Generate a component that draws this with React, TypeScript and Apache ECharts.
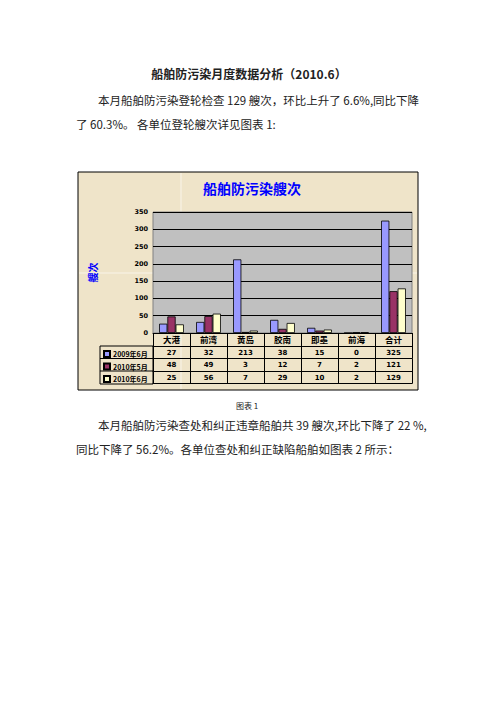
import React, { useEffect, useRef } from "react";
import * as echarts from "echarts";

const categories = ["大港", "前湾", "黄岛", "胶南", "即墨", "前海", "合计"];
const seriesNames = ["2009年6月", "2010年5月", "2010年6月"];
const jun2009 = [27, 32, 213, 38, 15, 0, 325];
const may2010 = [48, 49, 3, 12, 7, 2, 121];
const jun2010 = [25, 56, 7, 29, 10, 2, 129];
const seriesColors = ["#9999ff", "#993366", "#ffffcc"];
const yMax = 350;
const yStep = 50;

const docTitle = "船舶防污染月度数据分析（2010.6）";
const para1 = ["本月船舶防污染登轮检查 129 艘次，环比上升了 6.6%,同比下降", "了 60.3%。 各单位登轮艘次详见图表 1:"];
const caption = "图表 1";
const para2 = ["本月船舶防污染查处和纠正违章船舶共 39 艘次,环比下降了 22 %,", "同比下降了 56.2%。各单位查处和纠正缺陷船舶如图表 2 所示："];

const CJK = "'Noto Sans CJK SC', sans-serif";

export default function App() {
  const chartRef = useRef<HTMLDivElement>(null);

  useEffect(() => {
    const chart = echarts.init(chartRef.current!, null, { renderer: "svg" });
    const rows = [jun2009, may2010, jun2010];

    // data table rows under the plot, one category axis per row
    const rowAxes = rows.map((row, i) => ({
      type: "category",
      data: categories,
      position: "bottom",
      offset: 13 + i * 12.5,
      axisLine: { lineStyle: { color: "#000", width: 1 } },
      axisTick: { show: true, interval: 0, length: 12.5, lineStyle: { color: "#000" } },
      axisLabel: {
        interval: 0,
        margin: 3,
        fontSize: 7,
        fontWeight: "bold",
        fontFamily: "DejaVu Sans",
        color: "#000",
        formatter: (_v: string, idx: number) => String(row[idx]),
      },
    }));

    const docText = (text: string, x: number, y: number, size: number, bold = false, align = "left") => ({
      type: "text",
      x,
      y,
      style: {
        text,
        fontSize: size,
        fontWeight: bold ? "bold" : "normal",
        fontFamily: CJK,
        fill: "#222",
        textAlign: align,
        textVerticalAlign: "middle",
      },
    });

    chart.setOption({
      animation: false,
      backgroundColor: "#ffffff",
      title: {
        text: "船舶防污染艘次",
        left: 247,
        textAlign: "center",
        top: 176,
        textStyle: { color: "#0000ff", fontSize: 14, fontWeight: "bold", fontFamily: CJK },
      },
      legend: seriesNames.map((name, i) => ({
        data: [name],
        left: 103,
        top: 350 + i * 12.5,
        padding: 0,
        icon: "rect",
        itemWidth: 6,
        itemHeight: 6,
        textStyle: { fontSize: 7, fontWeight: "bold", fontFamily: CJK, color: "#000", padding: [0, 0, 0, -2] },
      })),
      grid: {
        left: 153,
        top: 212,
        width: 259,
        height: 121,
        show: true,
        backgroundColor: "#c0c0c0",
        borderColor: "#808080",
        borderWidth: 1,
      },
      xAxis: [
        {
          type: "category",
          data: categories,
          position: "bottom",
          axisLine: { lineStyle: { color: "#000", width: 1 } },
          axisTick: { show: true, interval: 0, length: 13, lineStyle: { color: "#000" } },
          axisLabel: {
            interval: 0,
            margin: 2,
            fontSize: 8.5,
            fontWeight: "bold",
            fontFamily: CJK,
            color: "#000",
          },
        },
        ...rowAxes,
        {
          type: "category",
          data: categories,
          position: "bottom",
          offset: 50.5,
          axisLine: { lineStyle: { color: "#000", width: 1 } },
          axisTick: { show: false },
          axisLabel: { show: false },
        },
      ],
      yAxis: {
        type: "value",
        min: 0,
        max: yMax,
        interval: yStep,
        name: "艘次",
        nameLocation: "middle",
        nameRotate: 90,
        nameGap: 56,
        nameTextStyle: { color: "#0000ff", fontSize: 10, fontWeight: "bold", fontFamily: CJK },
        axisLine: { show: false },
        axisTick: { show: false },
        axisLabel: { fontSize: 6.5, fontWeight: "bold", fontFamily: "DejaVu Sans", color: "#000", margin: 5 },
        splitLine: { lineStyle: { color: "#000", width: 1 } },
      },
      series: [jun2009, may2010, jun2010].map((data, i) => ({
        name: seriesNames[i],
        type: "bar",
        data,
        barGap: "0%",
        barCategoryGap: "33%",
        itemStyle: { color: seriesColors[i], borderColor: "#000", borderWidth: 0.8 },
      })),
      graphic: [
        {
          type: "rect",
          z: -100,
          shape: { x: 78, y: 172, width: 340, height: 218 },
          style: { fill: "#efe4c9", stroke: "#000", lineWidth: 1 },
        },
        {
          type: "line",
          z: -99,
          shape: { x1: 181, y1: 173, x2: 181, y2: 389 },
          style: { stroke: "#ffffff", lineWidth: 1, opacity: 0.6 },
        },
        {
          type: "line",
          z: -99,
          shape: { x1: 79, y1: 273, x2: 417, y2: 273 },
          style: { stroke: "#ffffff", lineWidth: 1, opacity: 0.6 },
        },
        {
          type: "rect",
          shape: { x: 100, y: 346, width: 53, height: 38 },
          style: { fill: "none", stroke: "#000", lineWidth: 1 },
        },
        {
          type: "line",
          shape: { x1: 100, y1: 358.5, x2: 153, y2: 358.5 },
          style: { stroke: "#000", lineWidth: 1 },
        },
        {
          type: "line",
          shape: { x1: 100, y1: 371, x2: 153, y2: 371 },
          style: { stroke: "#000", lineWidth: 1 },
        },
        docText(docTitle, 249, 73, 12, true, "center"),
        docText(para1[0], 98, 100, 11.5),
        docText(para1[1], 76, 124, 11.5),
        docText(caption, 247, 405, 8, false, "center"),
        docText(para2[0], 98, 425, 11.5),
        docText(para2[1], 76, 449, 11.5),
      ],
    });

    return () => {
      chart.dispose();
    };
  }, []);

  return (
    <div
      ref={chartRef}
      style={{ position: "absolute", left: 0, top: 0, width: "496px", height: "702px", background: "#fff" }}
    />
  );
}
